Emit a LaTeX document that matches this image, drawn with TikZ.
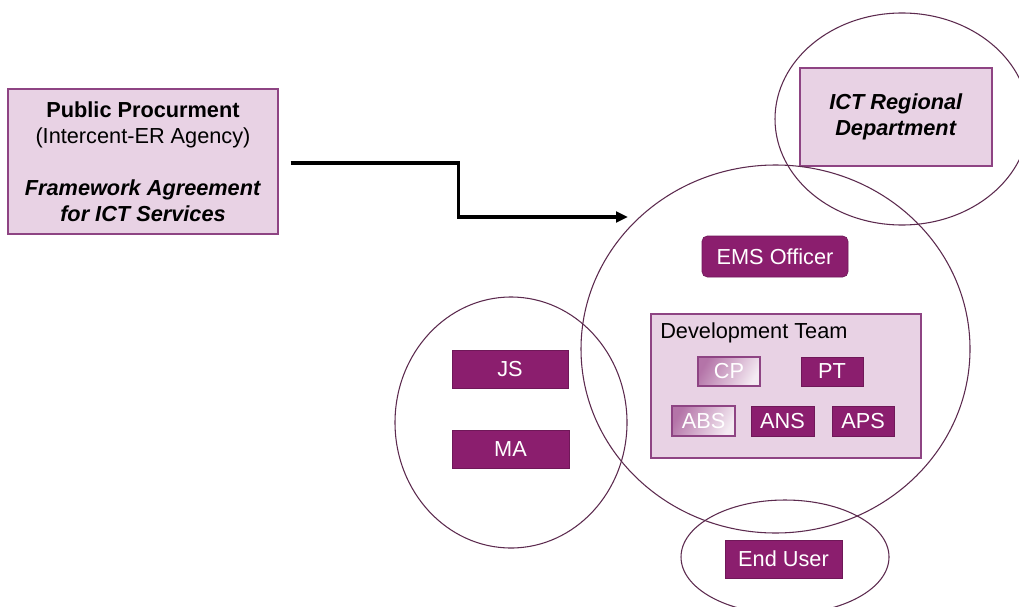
\documentclass[tikz,border=0pt]{standalone}
\usepackage{fontspec}
\setmainfont{Liberation Sans}
\usetikzlibrary{arrows.meta,shapes.geometric}
\definecolor{dark}{HTML}{8B1E6E}
\definecolor{light}{HTML}{E8D2E4}
\definecolor{lborder}{HTML}{8E4483}
\definecolor{ring}{HTML}{5C2A4E}
\definecolor{gradA}{HTML}{B474A8}
\definecolor{gradB}{HTML}{F4EAF2}
\tikzset{
  lightbox/.style={draw=lborder,line width=0.9pt,fill=light,inner sep=0pt,align=center,font=\fontsize{16.3}{19.5}\selectfont},
  darkbox/.style={draw=dark!80!black,line width=0.5pt,fill=dark,text=white,inner sep=0pt,font=\fontsize{16.3}{19.5}\selectfont},
  fadebox/.style={draw=lborder,line width=0.9pt,left color=gradA,right color=gradB,shading angle=60,text=white,inner sep=0pt,font=\fontsize{16.3}{19.5}\selectfont},
  ring/.style={draw=ring,line width=0.8pt,ellipse,inner sep=0pt},
  flow/.style={line width=2.3pt,-{Triangle[length=9pt,width=8pt]}}
}
\begin{document}
\begin{tikzpicture}[x=0.75pt,y=-0.75pt]
\useasboundingbox (0,0) rectangle (1019,606);
% boxes
\node[lightbox,minimum width=270*0.75pt,minimum height=145*0.75pt] (pp) at (143,161.5)
  {\textbf{Public Procurment}\\(Intercent-ER Agency)\\[19.5pt]\textbf{\textit{Framework Agreement}}\\\textbf{\textit{for ICT Services}}};
\node[lightbox,minimum width=192*0.75pt,minimum height=98*0.75pt] (ict) at (896,117)
  {\textbf{\textit{ICT Regional}}\\\textbf{\textit{Department}}};
\node[darkbox,rounded corners=4pt,minimum width=146*0.75pt,minimum height=41*0.75pt] (ems) at (775,256.5) {EMS Officer};
\node[lightbox,minimum width=270*0.75pt,minimum height=144*0.75pt] (dev) at (786,386) {};
\node[anchor=west,font=\fontsize{16.3}{19.5}\selectfont,inner sep=0pt] (devlabel) at (660,333) {Development Team};
\node[fadebox,minimum width=62*0.75pt,minimum height=29*0.75pt] (cp) at (729,371.5) {CP};
\node[darkbox,minimum width=62*0.75pt,minimum height=29*0.75pt] (pt) at (832,371.5) {PT};
\node[fadebox,minimum width=63*0.75pt,minimum height=30*0.75pt] (abs) at (703.5,421) {ABS};
\node[darkbox,minimum width=63*0.75pt,minimum height=30*0.75pt] (ans) at (782.5,421) {ANS};
\node[darkbox,minimum width=62*0.75pt,minimum height=30*0.75pt] (aps) at (863,421) {APS};
\node[darkbox,minimum width=116*0.75pt,minimum height=38*0.75pt] (js) at (510,369) {JS};
\node[darkbox,minimum width=117*0.75pt,minimum height=38*0.75pt] (ma) at (510.5,449) {MA};
\node[darkbox,minimum width=117*0.75pt,minimum height=38*0.75pt] (eu) at (783.5,559) {End User};
% rings
\node[ring,minimum width=254*0.75pt,minimum height=212*0.75pt] (ictring) at (902,119) {};
\node[ring,minimum width=389*0.75pt,minimum height=368*0.75pt] (bigring) at (775.5,349) {};
\node[ring,minimum width=232*0.75pt,minimum height=251*0.75pt] (leftring) at (511,422.5) {};
\node[ring,minimum width=208*0.75pt,minimum height=114*0.75pt] (euring) at (785,557) {};
% connector
\coordinate (tip) at (628,217);
\draw[flow] ([xshift=9pt,yshift=-1.1pt]pp.east) -- ++(168,0) |- (tip);
\end{tikzpicture}
\end{document}
